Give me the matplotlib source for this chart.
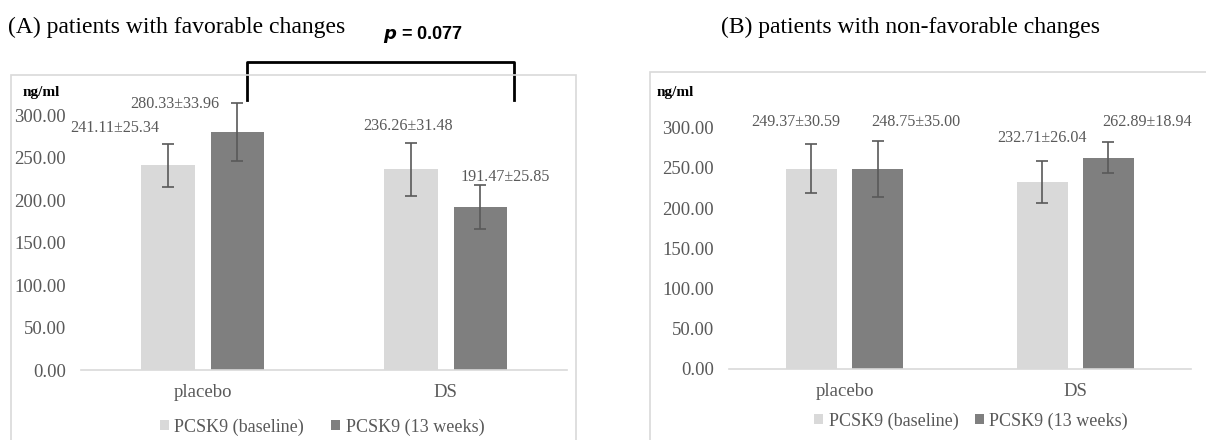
import numpy as np
import matplotlib
matplotlib.use("Agg")
import matplotlib.pyplot as plt
from matplotlib.patches import Rectangle

# data
groups = ["placebo", "DS"]
series = ["PCSK9 (baseline)", "PCSK9 (13 weeks)"]
fav_base = [241.11, 236.26]
fav_base_sd = [25.34, 31.48]
fav_13w = [280.33, 191.47]
fav_13w_sd = [33.96, 25.85]
nonfav_base = [249.37, 232.71]
nonfav_base_sd = [30.59, 26.04]
nonfav_13w = [248.75, 262.89]
nonfav_13w_sd = [35.00, 18.94]
yticks = [0, 50, 100, 150, 200, 250, 300]

light = "#d9d9d9"
dark = "#7f7f7f"
txt = "#595959"
serif = ["Liberation Serif", "DejaVu Serif"]

plt.rcParams['font.family'] = serif

fig = plt.figure(figsize=(12.06, 4.4), dpi=100)

# chart area borders (Excel style)
fig.patches.append(Rectangle((0.0095, -0.1), 0.468, 0.9295, transform=fig.transFigure,
                             fill=False, edgecolor="#d9d9d9", lw=1.2))
fig.patches.append(Rectangle((0.539, -0.1), 0.6, 0.9364, transform=fig.transFigure,
                             fill=False, edgecolor="#d9d9d9", lw=1.2))

axA = fig.add_axes([0.0672, 0.159, 0.403, 0.676])
axB = fig.add_axes([0.6045, 0.1614, 0.383, 0.6395])

w = 0.22
off = 0.143
x = np.arange(len(groups))


def draw(ax, base, base_sd, wk, wk_sd, lab_pos):
    b1 = ax.bar(x - off, base, w, color=light, label=series[0])
    b2 = ax.bar(x + off, wk, w, color=dark, label=series[1])
    ax.errorbar(x - off, base, yerr=base_sd, fmt="none", ecolor="#595959",
                elinewidth=1.2, capsize=4, capthick=1.2, clip_on=False)
    ax.errorbar(x + off, wk, yerr=wk_sd, fmt="none", ecolor="#595959",
                elinewidth=1.2, capsize=4, capthick=1.2, clip_on=False)
    vals = [(base[0], base_sd[0]), (wk[0], wk_sd[0]), (base[1], base_sd[1]), (wk[1], wk_sd[1])]
    for (m, s), (lx, ly) in zip(vals, lab_pos):
        ax.text(lx, ly, "%.2f±%.2f" % (m, s), ha="center", va="center",
                fontsize=11.6, color=txt)
    ax.set_xlim(-0.5, 1.5)
    ax.set_ylim(0, 350)
    ax.set_yticks(yticks)
    ax.set_yticklabels(["%.2f" % t for t in yticks])
    ax.set_xticks(x)
    ax.set_xticklabels(groups)
    for sp in ["top", "right", "left"]:
        ax.spines[sp].set_visible(False)
    ax.spines["bottom"].set_color("#d9d9d9")
    ax.spines["bottom"].set_linewidth(1.2)
    ax.tick_params(axis="both", length=0, labelsize=13.5, colors=txt)
    ax.tick_params(axis="y", pad=11)
    ax.tick_params(axis="x", pad=10)
    return b1, b2


# label positions picked to match the original
posA = [(-0.362, 284.7), (-0.113, 313), (0.846, 287), (1.245, 227)]
posB = [(-0.212, 307), (0.31, 307), (0.855, 287), (1.31, 307)]

hA = draw(axA, fav_base, fav_base_sd, fav_13w, fav_13w_sd, posA)
hB = draw(axB, nonfav_base, nonfav_base_sd, nonfav_13w, nonfav_13w_sd, posB)

axA.legend(handles=hA, loc="center", bbox_to_anchor=(322 / 1206, 1 - 427 / 440),
           bbox_transform=fig.transFigure, ncol=2, frameon=False, fontsize=13,
           handlelength=0.5, handleheight=0.5, handletextpad=0.3, columnspacing=1.5,
           labelcolor=txt)
axB.legend(handles=hB, loc="center", bbox_to_anchor=(971 / 1206, 1 - 421 / 440),
           bbox_transform=fig.transFigure, ncol=2, frameon=False, fontsize=13,
           handlelength=0.5, handleheight=0.5, handletextpad=0.3, columnspacing=0.9,
           labelcolor=txt)

# significance bracket
axA.plot([0.183, 0.183, 1.282, 1.282], [317.6, 362, 362, 317.6], color="black",
         lw=2, clip_on=False)

fig.text(0.0066, 0.9386, "(A) patients with favorable changes", fontsize=17,
         ha="left", va="center")
fig.text(0.7546, 0.9386, "(B) patients with non-favorable changes", fontsize=17,
         ha="center", va="center")
fig.text(0.3507, 0.9205, r"$\bfit{p}$" + " = 0.077", fontsize=13, ha="center", va="center",
         family=["Liberation Sans", "DejaVu Sans"], fontweight="bold")
fig.text(0.019, 0.789, "ng/ml", fontsize=11, fontweight="bold", ha="left", va="center")
fig.text(0.544, 0.789, "ng/ml", fontsize=11, fontweight="bold", ha="left", va="center")

fig.savefig("out.png", dpi=100)
